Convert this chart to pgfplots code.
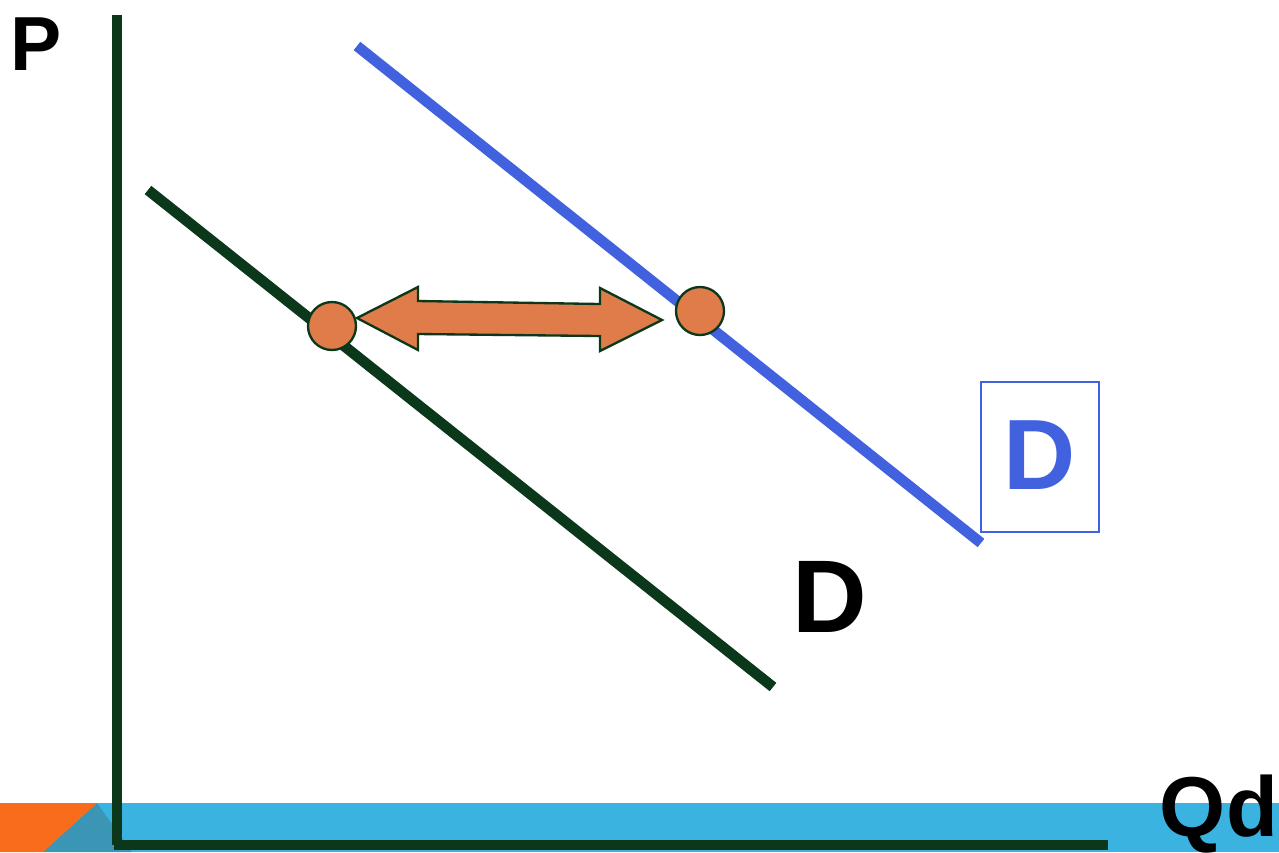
\documentclass[border=0pt]{standalone}
\usepackage{pgfplots}
\pgfplotsset{compat=1.18}
\usepackage{fontspec}
\setmainfont{Liberation Sans}
\definecolor{dg}{RGB}{11,56,26}
\definecolor{bl}{RGB}{65,97,222}
\definecolor{orc}{RGB}{223,124,74}
\definecolor{band}{RGB}{59,179,224}
\definecolor{orb}{RGB}{249,108,28}
\definecolor{teal}{RGB}{58,150,180}
\begin{document}
\begin{tikzpicture}
\begin{axis}[
  hide axis, scale only axis,
  width=383.7pt, height=255.6pt,
  xmin=0, xmax=1279, ymin=0, ymax=852,
  clip=false,
  y dir=reverse,
]
% bottom band
\addplot[draw=none, fill=band] coordinates {(0,803) (1279,803) (1279,852) (0,852)} --cycle;
\addplot[draw=none, fill=teal] coordinates {(97,803) (132,852) (43,852)} --cycle;
\addplot[draw=none, fill=orb] coordinates {(0,803) (97,803) (43,852) (0,852)} --cycle;
% axes
\addplot[dg, line width=3.2pt] coordinates {(117,15) (117,845)};
\addplot[dg, line width=3.2pt] coordinates {(114,845) (1108,845)};
% demand curves
\addplot[dg, line width=3.2pt] coordinates {(148,190) (773,687)};
\addplot[bl, line width=3.2pt] coordinates {(357,46) (981,543)};
% arrow
\addplot[draw=dg, fill=orc, line width=0.7pt] coordinates {
 (357,318) (418,287) (418,301) (600,304) (600,288) (662,320) (600,351) (600,336) (418,334) (418,350)} --cycle;
% points
\addplot[only marks, mark=*, mark size=7.2pt, mark options={fill=orc, draw=dg, line width=0.7pt}] coordinates {(332,326) (700,311)};
% box
\addplot[bl, line width=0.7pt] coordinates {(981,382) (1099,382) (1099,532) (981,532)} --cycle;
\node[font=\bfseries\fontsize{30}{30}\selectfont, text=bl] at (axis cs:1040,455) {D};
\node[font=\bfseries\fontsize{31}{31}\selectfont, text=black] at (axis cs:830,597) {D};
\node[font=\bfseries\fontsize{23}{23}\selectfont, text=black] at (axis cs:36,44) {P};
\node[font=\bfseries\fontsize{25.5}{25.5}\selectfont, text=black] at (axis cs:1219,814) {Qd};
\end{axis}
\pgfresetboundingbox
\path (0,0) rectangle (383.7pt,255.6pt);
\end{tikzpicture}
\end{document}
